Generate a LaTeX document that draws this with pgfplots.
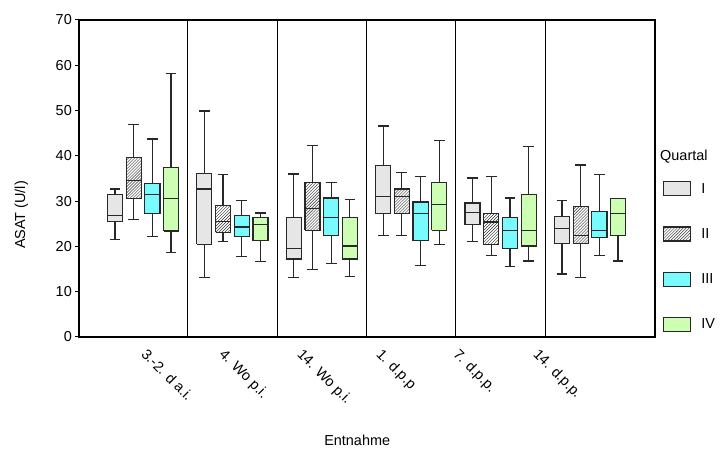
\documentclass[border=0pt]{standalone}
\usepackage{pgfplots}
\pgfplotsset{compat=1.18}
\usetikzlibrary{patterns}
\usepackage{fontspec}
\setmainfont{Liberation Sans}
\definecolor{qI}{RGB}{230,230,230}
\definecolor{qIII}{RGB}{120,250,255}
\definecolor{qIV}{RGB}{204,255,179}
\definecolor{edge}{RGB}{40,40,40}
\newcommand{\ff}{\fontsize{14.5}{17}\selectfont}
\pgfplotsset{
  legbox/.style={legend image code/.code={\draw[##1] (0bp,-7bp) rectangle (27bp,7bp);}},
  bI/.style={draw=edge, fill=qI, line width=1.2bp, mark=none},
  bII/.style={draw=edge, pattern=north east lines, pattern color=black!80, line width=1.2bp, mark=none},
  bIII/.style={draw=edge, fill=qIII, line width=1.2bp, mark=none},
  bIV/.style={draw=edge, fill=qIV, line width=1.2bp, mark=none},
  wl/.style={draw=edge, line width=1.2bp, mark=none, unbounded coords=jump},
}
\begin{document}
\begin{tikzpicture}
\begin{axis}[
  name=ax,
  scale only axis, width=576bp, height=317bp,
  xmin=0.284, xmax=6.727, ymin=0, ymax=70,
  clip=false,
  unbounded coords=jump,
  line join=miter,
  font=\ff,
  tick label style={font=\ff},
  label style={font=\ff},
  /pgf/number format/assume math mode=true,
  axis line style={line width=1.2bp, black},
  ytick={0,10,...,70},
  tick pos=left,
  tick align=outside,
  major tick length=4bp,
  ytick style={line width=1bp, black},
  xtick={1.055,1.928,2.800,3.684,4.545,5.440},
  xticklabels={3.-2. d a.i.,4. Wo p.i.,14. Wo p.i.,1. d.p.p,7. d.p.p.,14. d.p.p.},
  xtick style={draw=none},
  xticklabel style={anchor=north west, rotate=-45, inner sep=1bp},
  xticklabel shift=5bp,
  extra x ticks={1.5,2.5,3.5,4.5,5.5},
  extra x tick labels={},
  extra x tick style={grid=major, major grid style={black, line width=1.1bp}, major tick length=0pt},
  yticklabel style={inner sep=1bp, xshift=-2bp},
  ylabel={ASAT (U/l)},
  ylabel style={at={(rel axis cs:-0.1000,0.385)}, anchor=center},
  xlabel={Entnahme},
  xlabel style={at={(rel axis cs:0.483,-0.325)}, anchor=center},
  legend style={at={(rel axis cs:1.0139,0.492)}, anchor=north west, draw=none, fill=none,
    inner sep=0pt, row sep=30bp, column sep=9bp, nodes={inner sep=1bp}, font=\ff},
  legend cell align=left,
]
\addlegendimage{legbox, bI}\addlegendentry{I}
\addlegendimage{legbox, bII}\addlegendentry{II}
\addlegendimage{legbox, bIII}\addlegendentry{III}
\addlegendimage{legbox, bIV}\addlegendentry{IV}
% ---- Quartal I: boxes (lower quartile to upper quartile)
\addplot[bI] coordinates {
 (0.602,25.5) (0.770,25.5) (0.770,31.4) (0.602,31.4) (0.602,25.5) (0,nan)
 (1.602,20.5) (1.770,20.5) (1.770,36.1) (1.602,36.1) (1.602,20.5) (0,nan)
 (2.602,17.2) (2.770,17.2) (2.770,26.3) (2.602,26.3) (2.602,17.2) (0,nan)
 (3.602,27.2) (3.770,27.2) (3.770,37.8) (3.602,37.8) (3.602,27.2) (0,nan)
 (4.602,24.8) (4.770,24.8) (4.770,29.6) (4.602,29.6) (4.602,24.8) (0,nan)
 (5.602,20.7) (5.770,20.7) (5.770,26.6) (5.602,26.6) (5.602,20.7)
};
% ---- Quartal II
\addplot[bII] coordinates {
 (0.811,30.5) (0.979,30.5) (0.979,39.6) (0.811,39.6) (0.811,30.5) (0,nan)
 (1.811,23.1) (1.979,23.1) (1.979,29.0) (1.811,29.0) (1.811,23.1) (0,nan)
 (2.811,23.6) (2.979,23.6) (2.979,34.2) (2.811,34.2) (2.811,23.6) (0,nan)
 (3.811,27.2) (3.979,27.2) (3.979,32.7) (3.811,32.7) (3.811,27.2) (0,nan)
 (4.811,20.4) (4.979,20.4) (4.979,27.2) (4.811,27.2) (4.811,20.4) (0,nan)
 (5.811,20.7) (5.979,20.7) (5.979,28.9) (5.811,28.9) (5.811,20.7)
};
% ---- Quartal III
\addplot[bIII] coordinates {
 (1.021,27.2) (1.189,27.2) (1.189,33.9) (1.021,33.9) (1.021,27.2) (0,nan)
 (2.021,22.2) (2.189,22.2) (2.189,26.9) (2.021,26.9) (2.021,22.2) (0,nan)
 (3.021,22.4) (3.189,22.4) (3.189,30.7) (3.021,30.7) (3.021,22.4) (0,nan)
 (4.021,21.3) (4.189,21.3) (4.189,29.8) (4.021,29.8) (4.021,21.3) (0,nan)
 (5.021,19.5) (5.189,19.5) (5.189,26.3) (5.021,26.3) (5.021,19.5) (0,nan)
 (6.021,21.9) (6.189,21.9) (6.189,27.7) (6.021,27.7) (6.021,21.9)
};
% ---- Quartal IV
\addplot[bIV] coordinates {
 (1.230,23.4) (1.398,23.4) (1.398,37.5) (1.230,37.5) (1.230,23.4) (0,nan)
 (2.230,21.3) (2.398,21.3) (2.398,26.3) (2.230,26.3) (2.230,21.3) (0,nan)
 (3.230,17.2) (3.398,17.2) (3.398,26.3) (3.230,26.3) (3.230,17.2) (0,nan)
 (4.230,23.6) (4.398,23.6) (4.398,34.2) (4.230,34.2) (4.230,23.6) (0,nan)
 (5.230,20.1) (5.398,20.1) (5.398,31.4) (5.230,31.4) (5.230,20.1) (0,nan)
 (6.230,22.4) (6.398,22.4) (6.398,30.5) (6.230,30.5) (6.230,22.4)
};
% ---- whiskers, caps and medians: Quartal I
\addplot[wl] coordinates {
 (0.686,31.4) (0.686,32.7) (0,nan) (0.626,32.7) (0.746,32.7) (0,nan) (0.686,25.5) (0.686,21.6) (0,nan) (0.626,21.6) (0.746,21.6) (0,nan) (0.602,26.9) (0.770,26.9) (0,nan)
 (1.686,36.1) (1.686,49.9) (0,nan) (1.626,49.9) (1.746,49.9) (0,nan) (1.686,20.5) (1.686,13.1) (0,nan) (1.626,13.1) (1.746,13.1) (0,nan) (1.602,32.7) (1.770,32.7) (0,nan)
 (2.686,26.3) (2.686,36.0) (0,nan) (2.626,36.0) (2.746,36.0) (0,nan) (2.686,17.2) (2.686,13.1) (0,nan) (2.626,13.1) (2.746,13.1) (0,nan) (2.602,19.5) (2.770,19.5) (0,nan)
 (3.686,37.8) (3.686,46.6) (0,nan) (3.626,46.6) (3.746,46.6) (0,nan) (3.686,27.2) (3.686,22.4) (0,nan) (3.626,22.4) (3.746,22.4) (0,nan) (3.602,31.0) (3.770,31.0) (0,nan)
 (4.686,29.6) (4.686,35.1) (0,nan) (4.626,35.1) (4.746,35.1) (0,nan) (4.686,24.8) (4.686,21.0) (0,nan) (4.626,21.0) (4.746,21.0) (0,nan) (4.602,27.5) (4.770,27.5) (0,nan)
 (5.686,26.6) (5.686,30.1) (0,nan) (5.626,30.1) (5.746,30.1) (0,nan) (5.686,20.7) (5.686,13.9) (0,nan) (5.626,13.9) (5.746,13.9) (0,nan) (5.602,23.9) (5.770,23.9)
};
% ---- Quartal II
\addplot[wl] coordinates {
 (0.895,39.6) (0.895,46.9) (0,nan) (0.835,46.9) (0.955,46.9) (0,nan) (0.895,30.5) (0.895,26.0) (0,nan) (0.835,26.0) (0.955,26.0) (0,nan) (0.811,34.5) (0.979,34.5) (0,nan)
 (1.895,29.0) (1.895,35.8) (0,nan) (1.835,35.8) (1.955,35.8) (0,nan) (1.895,23.1) (1.895,21.0) (0,nan) (1.835,21.0) (1.955,21.0) (0,nan) (1.811,25.5) (1.979,25.5) (0,nan)
 (2.895,34.2) (2.895,42.2) (0,nan) (2.835,42.2) (2.955,42.2) (0,nan) (2.895,23.6) (2.895,14.9) (0,nan) (2.835,14.9) (2.955,14.9) (0,nan) (2.811,28.3) (2.979,28.3) (0,nan)
 (3.895,32.7) (3.895,36.3) (0,nan) (3.835,36.3) (3.955,36.3) (0,nan) (3.895,27.2) (3.895,22.4) (0,nan) (3.835,22.4) (3.955,22.4) (0,nan) (3.811,31.0) (3.979,31.0) (0,nan)
 (4.895,27.2) (4.895,35.4) (0,nan) (4.835,35.4) (4.955,35.4) (0,nan) (4.895,20.4) (4.895,18.0) (0,nan) (4.835,18.0) (4.955,18.0) (0,nan) (4.811,25.4) (4.979,25.4) (0,nan)
 (5.895,28.9) (5.895,38.0) (0,nan) (5.835,38.0) (5.955,38.0) (0,nan) (5.895,20.7) (5.895,13.1) (0,nan) (5.835,13.1) (5.955,13.1) (0,nan) (5.811,22.4) (5.979,22.4)
};
% ---- Quartal III
\addplot[wl] coordinates {
 (1.105,33.9) (1.105,43.7) (0,nan) (1.045,43.7) (1.165,43.7) (0,nan) (1.105,27.2) (1.105,22.2) (0,nan) (1.045,22.2) (1.165,22.2) (0,nan) (1.021,31.4) (1.189,31.4) (0,nan)
 (2.105,26.9) (2.105,30.1) (0,nan) (2.045,30.1) (2.165,30.1) (0,nan) (2.105,22.2) (2.105,17.7) (0,nan) (2.045,17.7) (2.165,17.7) (0,nan) (2.021,24.3) (2.189,24.3) (0,nan)
 (3.105,30.7) (3.105,34.2) (0,nan) (3.045,34.2) (3.165,34.2) (0,nan) (3.105,22.4) (3.105,16.3) (0,nan) (3.045,16.3) (3.165,16.3) (0,nan) (3.021,26.3) (3.189,26.3) (0,nan)
 (4.105,29.8) (4.105,35.4) (0,nan) (4.045,35.4) (4.165,35.4) (0,nan) (4.105,21.3) (4.105,15.7) (0,nan) (4.045,15.7) (4.165,15.7) (0,nan) (4.021,27.2) (4.189,27.2) (0,nan)
 (5.105,26.3) (5.105,30.7) (0,nan) (5.045,30.7) (5.165,30.7) (0,nan) (5.105,19.5) (5.105,15.5) (0,nan) (5.045,15.5) (5.165,15.5) (0,nan) (5.021,23.6) (5.189,23.6) (0,nan)
 (6.105,27.7) (6.105,35.8) (0,nan) (6.045,35.8) (6.165,35.8) (0,nan) (6.105,21.9) (6.105,18.0) (0,nan) (6.045,18.0) (6.165,18.0) (0,nan) (6.021,23.6) (6.189,23.6)
};
% ---- Quartal IV
\addplot[wl] coordinates {
 (1.314,37.5) (1.314,58.1) (0,nan) (1.254,58.1) (1.374,58.1) (0,nan) (1.314,23.4) (1.314,18.6) (0,nan) (1.254,18.6) (1.374,18.6) (0,nan) (1.230,30.5) (1.398,30.5) (0,nan)
 (2.314,26.3) (2.314,27.4) (0,nan) (2.254,27.4) (2.374,27.4) (0,nan) (2.314,21.3) (2.314,16.6) (0,nan) (2.254,16.6) (2.374,16.6) (0,nan) (2.230,24.9) (2.398,24.9) (0,nan)
 (3.314,26.3) (3.314,30.4) (0,nan) (3.254,30.4) (3.374,30.4) (0,nan) (3.314,17.2) (3.314,13.3) (0,nan) (3.254,13.3) (3.374,13.3) (0,nan) (3.230,20.1) (3.398,20.1) (0,nan)
 (4.314,34.2) (4.314,43.4) (0,nan) (4.254,43.4) (4.374,43.4) (0,nan) (4.314,23.6) (4.314,20.4) (0,nan) (4.254,20.4) (4.374,20.4) (0,nan) (4.230,29.2) (4.398,29.2) (0,nan)
 (5.314,31.4) (5.314,42.0) (0,nan) (5.254,42.0) (5.374,42.0) (0,nan) (5.314,20.1) (5.314,16.8) (0,nan) (5.254,16.8) (5.374,16.8) (0,nan) (5.230,23.6) (5.398,23.6) (0,nan)
 (6.314,30.5) (6.314,30.5) (0,nan) (6.254,30.5) (6.374,30.5) (0,nan) (6.314,22.4) (6.314,16.8) (0,nan) (6.254,16.8) (6.374,16.8) (0,nan) (6.230,27.2) (6.398,27.2)
};
\node[anchor=west, inner sep=0pt, font=\ff] at (rel axis cs:1.0087,0.57) {Quartal};
\end{axis}
\pgfresetboundingbox
\path ([shift={(-79bp,-117bp)}]ax.south west) rectangle ([shift={(67bp,20bp)}]ax.north east);
\end{tikzpicture}
\end{document}
